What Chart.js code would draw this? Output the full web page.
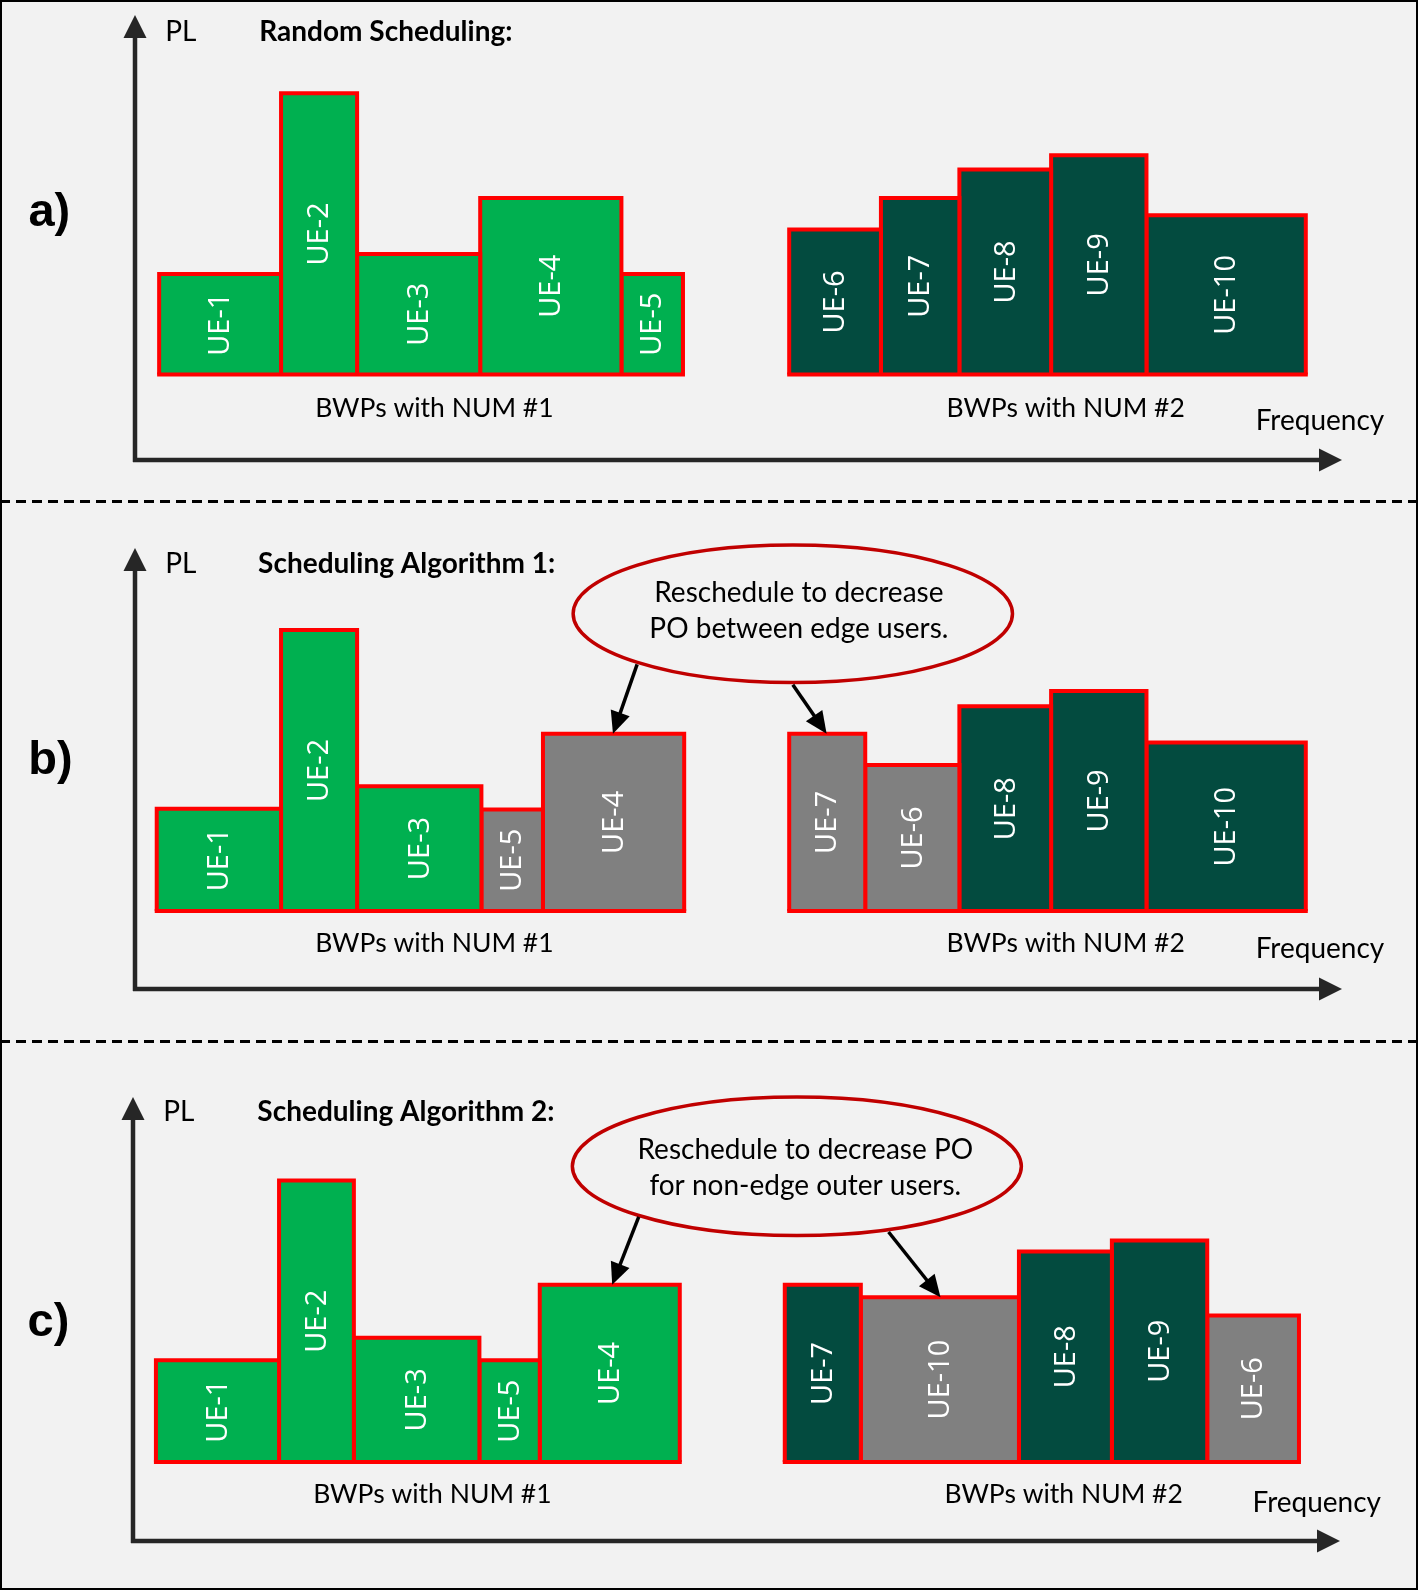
<!DOCTYPE html>
<html>
<head>
<meta charset="utf-8">
<title>BWP scheduling</title>
<script src="https://cdn.jsdelivr.net/npm/chart.js@4.4.1/dist/chart.umd.min.js"></script>
<style>
  html, body { margin: 0; padding: 0; background: #ffffff; }
  #figure { position: relative; width: 1418px; height: 1590px; background: #f2f2f2; overflow: hidden; }
  #figure canvas { position: absolute; left: 0; }
  #frame { position: absolute; left: 0; top: 0; width: 1418px; height: 1590px; box-sizing: border-box; border: 2px solid #000; pointer-events: none; }
</style>
</head>
<body>
<div id="figure">
  <canvas id="panelA" width="1418" height="500" style="top:0px"></canvas>
  <canvas id="panelB" width="1418" height="540" style="top:500px"></canvas>
  <canvas id="panelC" width="1418" height="550" style="top:1040px"></canvas>
  <div id="frame"></div>
</div>
<script>
// Both axes run 0..100 in arbitrary units (frequency across, PL up).
// Each panel: UEs in frequency order, bandwidth of each UE, PL (top of bar).
const labelsA = ['UE-1', 'UE-2', 'UE-3', 'UE-4', 'UE-5', 'UE-6', 'UE-7', 'UE-8', 'UE-9', 'UE-10'];
const widthsA = [10.1, 6.3, 10.2, 11.7, 5.1, 7.6, 6.5, 7.6, 7.9, 13.2];
const plA = [41.8, 82.4, 46.3, 58.9, 41.8, 51.8, 58.9, 65.3, 68.5, 55.0];
const movedA = [];

const labelsB = ['UE-1', 'UE-2', 'UE-3', 'UE-5', 'UE-4', 'UE-7', 'UE-6', 'UE-8', 'UE-9', 'UE-10'];
const widthsB = [10.3, 6.3, 10.3, 5.1, 11.7, 6.3, 7.8, 7.6, 7.9, 13.2];
const plB = [40.9, 81.4, 46.0, 40.7, 57.9, 57.9, 50.8, 64.1, 67.6, 55.9];
const movedB = ['UE-5', 'UE-4', 'UE-7', 'UE-6'];

const labelsC = ['UE-1', 'UE-2', 'UE-3', 'UE-5', 'UE-4', 'UE-7', 'UE-10', 'UE-8', 'UE-9', 'UE-6'];
const widthsC = [10.2, 6.2, 10.4, 5.0, 11.6, 6.3, 13.1, 7.7, 7.9, 7.6];
const plC = [40.7, 81.2, 45.8, 40.7, 57.7, 57.7, 54.9, 65.2, 67.7, 50.8];
const movedC = ['UE-10', 'UE-6'];

// where each BWP starts on the frequency axis, and the PL floor of the bars
const bwpStartA = [2.0, 54.2];
const bwpStartB = [1.8, 54.2];
const bwpStartC = [1.9, 54.0];
const bwpFloor = [19.2, 17.7, 17.8];
const uesPerBwp = 5;

const bwpNames = ['BWPs with NUM #1', 'BWPs with NUM #2'];
const panelTitles = ['Random Scheduling:', 'Scheduling Algorithm 1:', 'Scheduling Algorithm 2:'];
const panelTags = ['a)', 'b)', 'c)'];
const notes = [
  null,
  ['Reschedule to decrease', 'PO between edge users.'],
  ['Reschedule to decrease PO', 'for non-edge outer users.']
];

const GREEN = '#00b050';
const DARK = '#034b3f';
const GRAY = '#808080';
const RED = '#ff0000';
const OVAL = '#c00000';
const INK = '#262626';
const BG = '#f2f2f2';
const TEXT_FONT = 'Lato, "Open Sans", sans-serif';
const UE_FONT = '29px "Open Sans", sans-serif';

// placement of the decorations, in axis units
const layouts = [
  {
    padding: { left: 135, right: 76, top: 15, bottom: 40 },
    rule: false, plY: 96.1, titleX: 10.3, tagAt: [-7.1, 55.5],
    bwpText: [[24.8, 11.6], [77.1, 11.6]], freq: [103.5, 8.7],
    oval: null
  },
  {
    padding: { left: 135, right: 76, top: 48, bottom: 51 },
    rule: true, plY: 96.3, titleX: 10.2, tagAt: [-7.0, 51.7],
    bwpText: [[24.8, 10.3], [77.1, 10.3]], freq: [103.5, 9.0],
    oval: { cx: 54.5, cy: 85.1, rx: 18.2, ry: 15.6, tx: 55.0, ty: [89.9, 81.6],
      arrows: [[41.6, 73.6, 39.6, 57.9], [54.5, 69.0, 57.3, 57.9]] }
  },
  {
    padding: { left: 133, right: 78, top: 57, bottom: 49 },
    rule: true, plY: 96.6, titleX: 10.3, tagAt: [-7.0, 49.0],
    bwpText: [[24.8, 10.5], [77.1, 10.5]], freq: [103.4, 8.5],
    oval: { cx: 55.0, cy: 84.4, rx: 18.6, ry: 15.6, tx: 55.7, ty: [88.1, 79.9],
      arrows: [[41.9, 73.0, 39.7, 57.7], [62.6, 69.6, 66.9, 54.9]] }
  }
];

function head(ctx, tx, ty, angle, len, half) {
  const c = Math.cos(angle), s = Math.sin(angle);
  ctx.beginPath();
  ctx.moveTo(tx, ty);
  ctx.lineTo(tx - len * c - half * s, ty - len * s + half * c);
  ctx.lineTo(tx - len * c + half * s, ty - len * s - half * c);
  ctx.closePath();
  ctx.fill();
}

function arrow(ctx, x1, y1, x2, y2) {
  const a = Math.atan2(y2 - y1, x2 - x1);
  ctx.strokeStyle = '#000';
  ctx.fillStyle = '#000';
  ctx.lineWidth = 3.5;
  ctx.beginPath();
  ctx.moveTo(x1, y1);
  ctx.lineTo(x2 - 16 * Math.cos(a), y2 - 16 * Math.sin(a));
  ctx.stroke();
  head(ctx, x2, y2, a, 22, 10);
}

function label(ctx, str, x, y, font, align) {
  ctx.font = font;
  ctx.fillStyle = '#000';
  ctx.textAlign = align;
  ctx.textBaseline = 'middle';
  ctx.fillText(str, x, y);
}

const figurePlugin = {
  id: 'figure',
  beforeDatasetsDraw(chart, args, opts) {
    const { ctx } = chart;
    const px = v => chart.scales.x.getPixelForValue(v);
    const py = v => chart.scales.y.getPixelForValue(v);
    const x0 = px(0), y0 = py(0), xEnd = px(100), yEnd = py(100);
    ctx.save();
    if (opts.rule) {
      ctx.strokeStyle = '#000';
      ctx.lineWidth = 3;
      ctx.setLineDash([10, 6]);
      ctx.beginPath();
      ctx.moveTo(0, 1.5);
      ctx.lineTo(chart.width, 1.5);
      ctx.stroke();
      ctx.setLineDash([]);
    }
    ctx.strokeStyle = INK;
    ctx.fillStyle = INK;
    ctx.lineWidth = 4.5;
    ctx.beginPath();
    ctx.moveTo(x0, y0 + 2);
    ctx.lineTo(x0, yEnd + 18);
    ctx.stroke();
    head(ctx, x0, yEnd, -Math.PI / 2, 23, 11.5);
    ctx.beginPath();
    ctx.moveTo(x0 - 2, y0);
    ctx.lineTo(xEnd - 18, y0);
    ctx.stroke();
    head(ctx, xEnd, y0, 0, 23, 11.5);
    ctx.restore();
  },
  afterDatasetsDraw(chart, args, opts) {
    const { ctx } = chart;
    const px = v => chart.scales.x.getPixelForValue(v);
    const py = v => chart.scales.y.getPixelForValue(v);
    ctx.save();

    // UE names inside the bars
    chart.data.datasets.forEach(ds => {
      if (!ds.ue) return;
      const d = ds.data;
      const cx = px((d[0].x + d[2].x) / 2);
      const cy = py((d[0].y + d[1].y) / 2);
      ctx.save();
      ctx.translate(cx, cy);
      ctx.rotate(-Math.PI / 2);
      ctx.font = UE_FONT;
      ctx.fillStyle = '#ffffff';
      ctx.textAlign = 'center';
      ctx.textBaseline = 'middle';
      ctx.fillText(ds.ue, 0, 1);
      ctx.restore();
    });

    label(ctx, 'PL', px(2.5), py(opts.plY), '28px ' + TEXT_FONT, 'left');
    label(ctx, opts.title, px(opts.titleX), py(opts.plY), 'bold 28px ' + TEXT_FONT, 'left');
    label(ctx, opts.tag, px(opts.tagAt[0]), py(opts.tagAt[1]), 'bold 47px "Liberation Sans", Arial, sans-serif', 'center');
    opts.bwpText.forEach((p, i) => label(ctx, bwpNames[i], px(p[0]), py(p[1]), '26.5px ' + TEXT_FONT, 'center'));
    label(ctx, 'Frequency', px(opts.freq[0]), py(opts.freq[1]), '28px ' + TEXT_FONT, 'right');

    const o = opts.oval;
    if (o) {
      const rx = px(o.cx + o.rx) - px(o.cx);
      const ry = py(o.cy - o.ry) - py(o.cy);
      ctx.beginPath();
      ctx.ellipse(px(o.cx), py(o.cy), rx, ry, 0, 0, Math.PI * 2);
      ctx.fillStyle = BG;
      ctx.fill();
      ctx.strokeStyle = OVAL;
      ctx.lineWidth = 3.5;
      ctx.stroke();
      opts.note.forEach((line, i) => label(ctx, line, px(o.tx), py(o.ty[i]), '28px ' + TEXT_FONT, 'center'));
      o.arrows.forEach(a => arrow(ctx, px(a[0]), py(a[1]), px(a[2]), py(a[3])));
    }
    ctx.restore();
  }
};

function buildDatasets(labels, widths, pl, moved, starts, floor) {
  const lines = [];
  const bars = [];
  let x = starts[0];
  labels.forEach((ue, i) => {
    if (i === uesPerBwp) x = starts[1];
    const x1 = x + widths[i];
    const fill = moved.includes(ue) ? GRAY : (i < uesPerBwp ? GREEN : DARK);
    bars.push({
      ue: ue,
      data: [{ x: x, y: floor }, { x: x, y: pl[i] }, { x: x1, y: pl[i] }, { x: x1, y: floor }],
      borderColor: RED,
      borderWidth: 4,
      borderJoinStyle: 'miter',
      backgroundColor: fill,
      fill: { value: floor },
      pointRadius: 0,
      tension: 0
    });
    x = x1;
    if (i === uesPerBwp - 1 || i === labels.length - 1) {
      const first = i < uesPerBwp ? starts[0] : starts[1];
      lines.push({
        data: [{ x: first, y: floor }, { x: x1, y: floor }],
        borderColor: RED,
        borderWidth: 4,
        borderCapStyle: 'square',
        fill: false,
        pointRadius: 0
      });
    }
  });
  // lower index is painted last, so the floor lines sit on top of the bars
  return lines.concat(bars);
}

const panelData = [
  [labelsA, widthsA, plA, movedA, bwpStartA],
  [labelsB, widthsB, plB, movedB, bwpStartB],
  [labelsC, widthsC, plC, movedC, bwpStartC]
];

['panelA', 'panelB', 'panelC'].forEach((id, p) => {
  const [labels, widths, pl, moved, starts] = panelData[p];
  const lay = layouts[p];
  new Chart(document.getElementById(id), {
    type: 'line',
    data: { datasets: buildDatasets(labels, widths, pl, moved, starts, bwpFloor[p]) },
    options: {
      responsive: false,
      animation: false,
      events: [],
      devicePixelRatio: 1,
      layout: { padding: lay.padding },
      scales: {
        x: { type: 'linear', min: 0, max: 100, display: false },
        y: { type: 'linear', min: 0, max: 100, display: false }
      },
      plugins: {
        legend: { display: false },
        tooltip: { enabled: false },
        figure: Object.assign({ title: panelTitles[p], tag: panelTags[p], note: notes[p] }, lay)
      }
    },
    plugins: [figurePlugin]
  });
});
</script>
</body>
</html>
